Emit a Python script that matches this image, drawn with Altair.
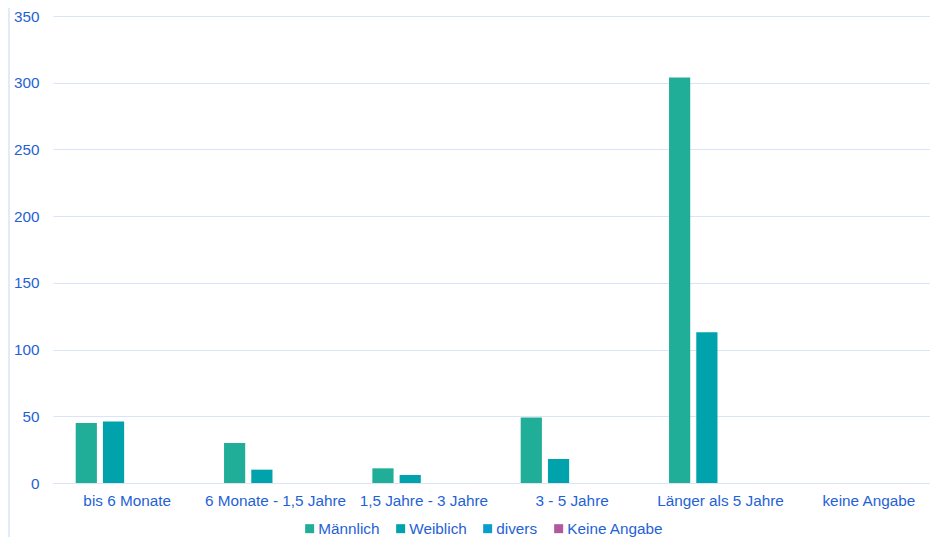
import altair as alt
import pandas as pd

categories = ["bis 6 Monate", "6 Monate - 1,5 Jahre", "1,5 Jahre - 3 Jahre",
              "3 - 5 Jahre", "Länger als 5 Jahre", "keine Angabe"]
series = ["Männlich", "Weiblich", "divers", "Keine Angabe"]
maennlich = [45, 30, 11, 49, 304, 0]
weiblich = [46, 10, 6, 18, 113, 0]
divers = [0, 0, 0, 0, 0, 0]
keine = [0, 0, 0, 0, 0, 0]
colors = ["#20AE98", "#00A2AC", "#0A9ECC", "#B05A9E"]

rows = []
for vals, s in zip([maennlich, weiblich, divers, keine], series):
    for c, v in zip(categories, vals):
        rows.append({"Kategorie": c, "Serie": s, "Wert": v})
df = pd.DataFrame(rows)

txt = "#1f62d6"
grid = "#D9E5F6"
fs = 15.3

bars = alt.Chart(df).mark_bar().encode(
    x=alt.X("Kategorie:N", sort=categories, title=None,
            scale=alt.Scale(paddingInner=0, paddingOuter=0, range=[0, 890]),
            axis=alt.Axis(labelAngle=0, labelColor=txt, labelFontSize=fs,
                          labelFont="Liberation Sans", ticks=False,
                          domainColor=grid, labelPadding=10)),
    xOffset=alt.XOffset("Serie:N", sort=series,
                        scale=alt.Scale(paddingInner=0.222, paddingOuter=0.833)),
    y=alt.Y("Wert:Q", title=None,
            scale=alt.Scale(domain=[0, 350], nice=False),
            axis=alt.Axis(values=[0, 50, 100, 150, 200, 250, 300, 350],
                          labelColor=txt, labelFontSize=fs,
                          labelFont="Liberation Sans", ticks=False,
                          domain=False, gridColor=grid, labelPadding=14)),
    color=alt.Color("Serie:N", sort=series,
                    scale=alt.Scale(domain=series, range=colors),
                    legend=alt.Legend(title=None, orient="none", direction="horizontal",
                                      legendX=249, legendY=505,
                                      symbolType="square", symbolSize=81,
                                      symbolStrokeWidth=0,
                                      labelColor=txt, labelFontSize=fs,
                                      labelFont="Liberation Sans",
                                      labelOffset=1, columnPadding=13)),
)

border = alt.Chart(pd.DataFrame({"a": [0]})).mark_rule(color="#C5D9F1", strokeWidth=1).encode(
    x=alt.value(-44), y=alt.value(-8), y2=alt.value(521)
)

chart = alt.layer(bars, border).properties(
    width=877, height=467,
    autosize=alt.AutoSizeParams(type="none"),
    padding={"left": 45, "top": 8, "right": 0, "bottom": 54},
).configure_view(stroke=None)

chart.save("out.html", embed_options={"renderer": "svg", "actions": False})
